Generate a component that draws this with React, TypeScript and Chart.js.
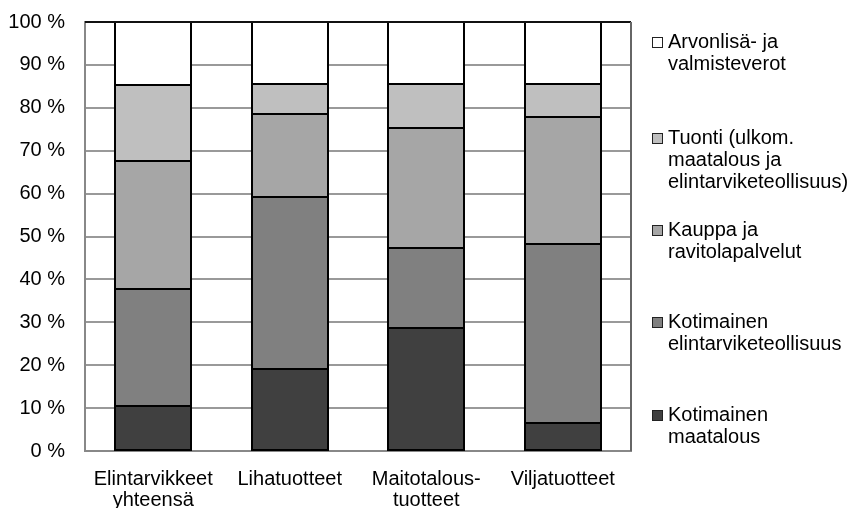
import React, { useEffect, useRef } from "react";
import { Chart, registerables } from "chart.js";

Chart.register(...registerables);

const categories: (string | string[])[] = [
  ["Elintarvikkeet", "yhteensä"],
  "Lihatuotteet",
  ["Maitotalous-", "tuotteet"],
  "Viljatuotteet",
];

const kotimainenMaatalous = [10.5, 19.2, 28.7, 6.6];
const kotimainenTeollisuus = [27.3, 40.1, 18.7, 41.6];
const kauppa = [29.8, 19.3, 28.0, 29.7];
const tuonti = [17.8, 6.9, 10.1, 7.6];
const arvonlisa = [14.6, 14.5, 14.5, 14.5];

const seriesLabels = [
  ["Kotimainen", "maatalous"],
  ["Kotimainen", "elintarviketeollisuus"],
  ["Kauppa ja", "ravitolapalvelut"],
  ["Tuonti (ulkom.", "maatalous ja", "elintarviketeollisuus)"],
  ["Arvonlisä- ja", "valmisteverot"],
];
const seriesColors = ["#404040", "#808080", "#a6a6a6", "#bfbfbf", "#ffffff"];

const yTicks = [0, 10, 20, 30, 40, 50, 60, 70, 80, 90, 100];

const FONT = "'Liberation Sans', Arial, sans-serif";

export default function App() {
  const ref = useRef<HTMLCanvasElement | null>(null);

  useEffect(() => {
    if (!ref.current) return;
    document.body.style.margin = "0";
    const values = [kotimainenMaatalous, kotimainenTeollisuus, kauppa, tuonti, arvonlisa];

    const outlinePlugin = {
      id: "segmentOutline",
      afterDatasetsDraw(chart: any) {
        const { ctx } = chart;
        ctx.save();
        ctx.strokeStyle = "#000";
        ctx.lineWidth = 2;
        chart.data.datasets.forEach((_: any, di: number) => {
          const meta = chart.getDatasetMeta(di);
          meta.data.forEach((el: any) => {
            const left = Math.round(el.x - el.width / 2);
            const right = Math.round(el.x + el.width / 2);
            const top = Math.round(el.y);
            const bottom = Math.round(el.base);
            ctx.strokeRect(left, top, right - left, bottom - top);
          });
        });
        // plot frame: top and right
        const { chartArea } = chart;
        ctx.strokeStyle = "#111";
        ctx.beginPath();
        ctx.moveTo(chartArea.left, chartArea.top);
        ctx.lineTo(chartArea.right, chartArea.top);
        ctx.stroke();
        ctx.strokeStyle = "#666";
        ctx.beginPath();
        ctx.moveTo(chartArea.right, chartArea.top);
        ctx.lineTo(chartArea.right, chartArea.bottom);
        ctx.stroke();
        ctx.restore();
      },
    };

    const legendPlugin = {
      id: "customLegend",
      afterDraw(chart: any) {
        const { ctx, chartArea } = chart;
        const firstLineY = [20, 116, 208, 300, 393];
        const boxX = chartArea.right + 21;
        const textX = chartArea.right + 37;
        const lh = 22;
        ctx.save();
        ctx.font = `20px ${FONT}`;
        ctx.textBaseline = "middle";
        ctx.textAlign = "left";
        const order = [4, 3, 2, 1, 0];
        order.forEach((di, i) => {
          const ds = chart.data.datasets[di];
          const y = chartArea.top + firstLineY[i];
          ctx.fillStyle = ds.backgroundColor;
          ctx.fillRect(boxX, y - 5, 10, 10);
          ctx.strokeStyle = "#222";
          ctx.lineWidth = 1;
          ctx.strokeRect(boxX + 0.5, y - 4.5, 10, 10);
          ctx.fillStyle = "#000";
          (seriesLabels[di] as string[]).forEach((line, k) => {
            ctx.fillText(line, textX, y + k * lh);
          });
        });
        ctx.restore();
      },
    };

    const chart = new Chart(ref.current, {
      type: "bar",
      data: {
        labels: categories as any,
        datasets: values.map((v, i) => ({
          label: (seriesLabels[i] as string[]).join(" "),
          data: v,
          backgroundColor: seriesColors[i],
          borderWidth: 0,
          barPercentage: 0.557,
          categoryPercentage: 1,
        })),
      },
      options: {
        animation: false,
        responsive: true,
        maintainAspectRatio: false,
        layout: { padding: { top: 22, right: 225, bottom: 0, left: 0 } },
        plugins: {
          legend: { display: false },
          tooltip: { enabled: false },
        },
        scales: {
          x: {
            stacked: true,
            grid: { display: false, drawTicks: false },
            border: { display: true, color: "#888", width: 2 },
            ticks: {
              color: "#000",
              font: { family: FONT, size: 20, lineHeight: 1.05 },
              padding: 18,
              maxRotation: 0,
              autoSkip: false,
            },
            afterFit(scale: any) {
              scale.height = 57;
              scale.paddingLeft = 0;
              scale.paddingRight = 0;
            },
          },
          y: {
            stacked: true,
            min: 0,
            max: 100,
            afterBuildTicks(scale: any) {
              scale.ticks = yTicks.map((v) => ({ value: v }));
            },
            grid: {
              drawTicks: false,
              color: (c: any) =>
                c.tick && (c.tick.value === 0 || c.tick.value === 100) ? "rgba(0,0,0,0)" : "#999",
              lineWidth: 2,
            },
            border: { display: true, color: "#888", width: 2 },
            ticks: {
              color: "#000",
              font: { family: FONT, size: 20 },
              padding: 20,
              callback: (v: any) => `${v} %`,
            },
            afterFit(scale: any) {
              scale.width = 85;
              scale.paddingTop = 0;
              scale.paddingBottom = 0;
            },
          },
        },
      },
      plugins: [outlinePlugin, legendPlugin],
    });
    return () => chart.destroy();
  }, []);

  return (
    <div style={{ width: 856, height: 508, position: "relative" }}>
      <canvas ref={ref} />
    </div>
  );
}
